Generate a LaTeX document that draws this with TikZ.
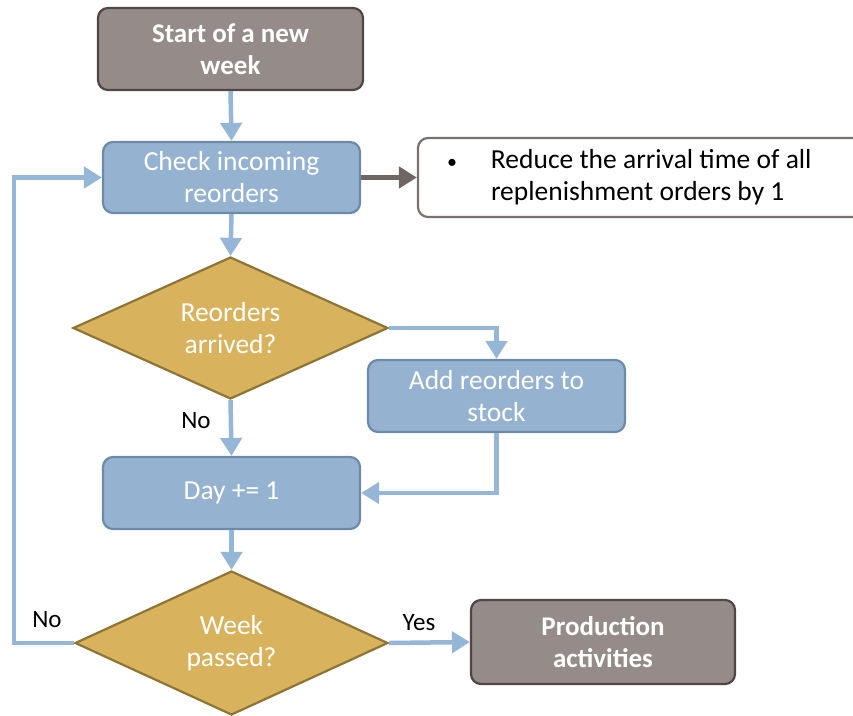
\documentclass[tikz,border=0pt]{standalone}
\usepackage{fontspec}
\setmainfont{Carlito}
\usetikzlibrary{shapes.geometric,arrows.meta}
\definecolor{brfill}{HTML}{958B88}
\definecolor{brline}{HTML}{4F4645}
\definecolor{blfill}{HTML}{95B3D1}
\definecolor{blline}{HTML}{6C8BA8}
\definecolor{gdfill}{HTML}{D8B25C}
\definecolor{gdline}{HTML}{8F7535}
\definecolor{arblue}{HTML}{95B6D6}
\definecolor{ardark}{HTML}{6F6563}
\definecolor{infoline}{HTML}{7A716E}
\tikzset{
  base/.style={rounded corners=10pt, line width=2.2pt, inner sep=2pt, align=flush center,
    font=\fontsize{27.5}{32}\selectfont},
  brownbox/.style={base, fill=brfill, draw=brline, text=white, font=\fontsize{27}{32}\selectfont\bfseries},
  bluebox/.style={base, fill=blfill, draw=blline, text=white},
  infobox/.style={base, fill=white, draw=infoline, text=black, align=flush left},
  decision/.style={diamond, aspect=2.2, inner sep=0pt, fill=gdfill, draw=gdline, line width=2.2pt,
    text=white, align=flush center, font=\fontsize{27.5}{32}\selectfont},
  flow/.style={draw=arblue, line width=4.5pt, -{Triangle[length=18pt,width=21pt]}},
  darkflow/.style={draw=ardark, line width=4.5pt, -{Triangle[length=18pt,width=21pt]}},
  lbl/.style={text=black, font=\fontsize{25}{30}\selectfont}
}
\begin{document}
\begin{tikzpicture}[x=1pt,y=-1pt]
\useasboundingbox (0,0) rectangle (853,715);
\node[brownbox, minimum width=265pt, minimum height=82pt] (start) at (230.5,49) {Start of a new\\week};
\node[bluebox, minimum width=257pt, minimum height=71pt] (check) at (231.5,177.5) {Check incoming\\reorders};
\node[infobox, minimum width=450pt, minimum height=79pt, text width=436pt] (info) at (643,177.5)
  {\hspace*{22pt}{\fontsize{20}{20}\selectfont\textbullet}\hspace{34pt}Reduce the arrival time of all\\\hspace*{66pt}replenishment orders by 1};
\node[decision, minimum width=315pt, minimum height=142pt] (d1) at (230.5,328) {Reorders\\arrived?};
\node[bluebox, minimum width=257pt, minimum height=72pt] (add) at (496.5,396) {Add reorders to\\stock};
\node[bluebox, minimum width=257pt, minimum height=72pt] (day) at (231.5,493) {Day += 1};
\node[decision, minimum width=313pt, minimum height=144pt] (d2) at (231.5,643) {Week\\passed?};
\node[brownbox, minimum width=264pt, minimum height=84pt] (prod) at (603,642) {Production\\activities};
\coordinate (lp) at (14,643);

\draw[flow] (start.south) -- (check.north);
\draw[darkflow] (check.east) -- (info.west);
\draw[flow] (check.south) -- (d1.north);
\draw[flow] (d1.east) -| (add.north);
\draw[flow] (d1.south) -- (day.north);
\draw[flow] (add.south) |- (day.east);
\draw[flow] (day.south) -- (d2.north);
\draw[flow] (d2.west) -- (lp) |- (check.west);
\draw[flow] (d2.east) -- (prod.west);

\node[lbl] (no1) at (196,421) {No};
\node[lbl] (no2) at (47,620) {No};
\node[lbl] (yes) at (419,623) {Yes};
\end{tikzpicture}
\end{document}
